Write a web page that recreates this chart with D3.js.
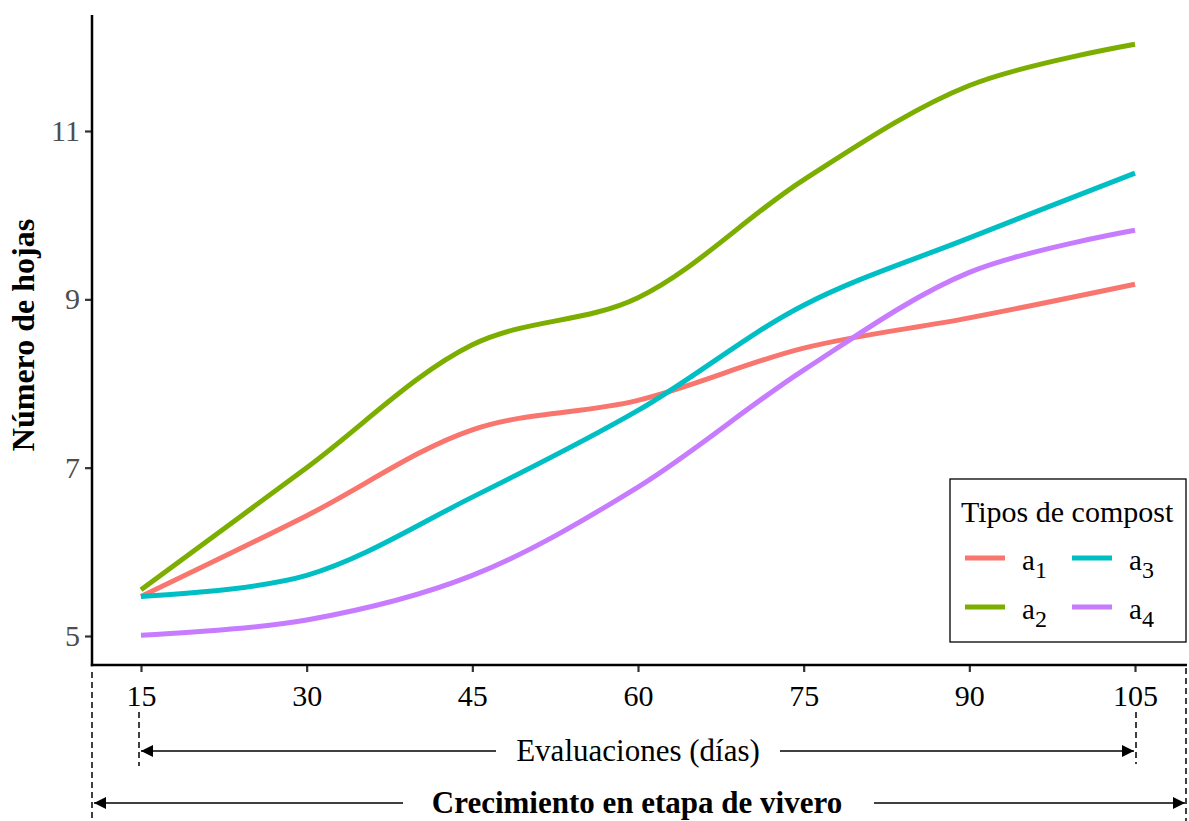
<!DOCTYPE html>
<html>
<head>
<meta charset="utf-8">
<script src="https://cdn.jsdelivr.net/npm/d3@7"></script>
<style>
  body { margin: 0; background: #fff; }
  svg { display: block; font-family: "Liberation Serif", "Times New Roman", serif; }
</style>
</head>
<body>
<script>
// evaluation days
const days = [15, 30, 45, 60, 75, 90, 105];
// series values (number of leaves)
const a1 = [5.47, 6.43, 7.45, 7.8, 8.42, 8.78, 9.18];
const a2 = [5.55, 7.0, 8.46, 9.02, 10.42, 11.54, 12.03];
const a3 = [5.47, 5.72, 6.65, 7.68, 8.93, 9.73, 10.5];
const a4 = [5.01, 5.19, 5.72, 6.77, 8.16, 9.32, 9.82];
const seriesNames = ["a1", "a2", "a3", "a4"];
const seriesColors = ["#F8766D", "#7CAE00", "#00BFC4", "#C77CFF"];
const yTicks = [5, 7, 9, 11];

const W = 1189, H = 821;
const svg = d3.select("body").append("svg").attr("width", W).attr("height", H);

const x = d3.scaleLinear().domain([15, 105]).range([141, 1135]);
const y = d3.scaleLinear().domain([5, 11]).range([636, 131]);
const axisLeft = 92, axisBottom = 665, axisTop = 15, axisRight = 1187;

// series lines
const line = d3.line()
  .x(d => x(d.x))
  .y(d => y(d.y))
  .curve(d3.curveCatmullRom.alpha(0.5));

const allSeries = [a1, a2, a3, a4].map((vals, i) => ({
  id: seriesNames[i],
  color: seriesColors[i],
  points: days.map((d, j) => ({x: d, y: vals[j]}))
}));

svg.append("g").selectAll("path").data(allSeries).enter()
  .append("path")
  .attr("d", d => line(d.points))
  .attr("fill", "none")
  .attr("stroke", d => d.color)
  .attr("stroke-width", 5);

// axes
const gy = svg.append("g").attr("transform", `translate(${axisLeft},0)`)
  .call(d3.axisLeft(y).tickValues(yTicks).tickSize(7).tickPadding(5).tickFormat(d3.format("d")));
gy.select(".domain").remove();
gy.selectAll("line").attr("stroke", "#333").attr("stroke-width", 2.2);
gy.selectAll("text").attr("font-size", 30).attr("fill", "#4D4D4D").attr("font-family", "Liberation Serif");

const gx = svg.append("g").attr("transform", `translate(0,${axisBottom})`)
  .call(d3.axisBottom(x).tickValues(days).tickSize(7).tickPadding(13).tickFormat(d3.format("d")));
gx.select(".domain").remove();
gx.selectAll("line").attr("stroke", "#333").attr("stroke-width", 2.2);
gx.selectAll("text").attr("font-size", 30).attr("fill", "#000").attr("font-family", "Liberation Serif");

svg.append("line").attr("x1", axisLeft).attr("x2", axisLeft).attr("y1", axisTop).attr("y2", axisBottom + 1.2)
  .attr("stroke", "#000").attr("stroke-width", 2.5);
svg.append("line").attr("x1", axisLeft - 1.2).attr("x2", axisRight).attr("y1", axisBottom).attr("y2", axisBottom)
  .attr("stroke", "#000").attr("stroke-width", 2.5);

// y axis title
svg.append("text")
  .attr("transform", `translate(34,335) rotate(-90)`)
  .attr("text-anchor", "middle")
  .attr("font-size", 32).attr("font-weight", "bold")
  .text("Número de hojas");

// legend
const lg = svg.append("g");
lg.append("rect").attr("x", 950).attr("y", 479).attr("width", 236).attr("height", 163)
  .attr("fill", "#fff").attr("stroke", "#000").attr("stroke-width", 1.3);
lg.append("text").attr("x", 961).attr("y", 522).attr("font-size", 30).text("Tipos de compost");
const legendPos = [[965, 558], [965, 607], [1072, 558], [1072, 607]];
allSeries.forEach((s, i) => {
  const [lx, ly] = legendPos[i];
  lg.append("line").attr("x1", lx).attr("x2", lx + 40).attr("y1", ly).attr("y2", ly)
    .attr("stroke", s.color).attr("stroke-width", 5);
  const t = lg.append("text").attr("x", lx + 57).attr("y", ly + 12).attr("font-size", 29);
  t.append("tspan").text("a");
  t.append("tspan").attr("dy", 8).attr("font-size", 24).text(s.id.slice(1));
});

// annotation arrows
const defs = svg.append("defs");
defs.append("marker").attr("id", "arr").attr("viewBox", "0 0 10 10")
  .attr("refX", 10).attr("refY", 5).attr("markerWidth", 16).attr("markerHeight", 12)
  .attr("markerUnits", "userSpaceOnUse").attr("orient", "auto")
  .append("path").attr("d", "M0,0L10,5L0,10Z").attr("fill", "#000");

function dashV(xp, y1, y2) {
  svg.append("line").attr("x1", xp).attr("x2", xp).attr("y1", y1).attr("y2", y2)
    .attr("stroke", "#000").attr("stroke-width", 1.5).attr("stroke-dasharray", "6,4");
}
dashV(axisLeft, 672, H);
dashV(1186, 668, H);
dashV(x(15) - 2, 712, 766);
dashV(x(105) + 1, 712, 764);

function arrowRow(x1, x2, yy, gapL, gapR) {
  svg.append("line").attr("x1", gapL).attr("x2", x1 + 1).attr("y1", yy).attr("y2", yy)
    .attr("stroke", "#000").attr("stroke-width", 1.5).attr("marker-end", "url(#arr)");
  svg.append("line").attr("x1", gapR).attr("x2", x2 - 1).attr("y1", yy).attr("y2", yy)
    .attr("stroke", "#000").attr("stroke-width", 1.5).attr("marker-end", "url(#arr)");
}
arrowRow(x(15) - 1, x(105), 751, 496, 780);
svg.append("text").attr("x", 638).attr("y", 761).attr("text-anchor", "middle")
  .attr("font-size", 31).text("Evaluaciones (días)");

arrowRow(axisLeft + 1, 1186, 803, 403, 874);
svg.append("text").attr("x", 637).attr("y", 813).attr("text-anchor", "middle")
  .attr("font-size", 31).attr("font-weight", "bold").text("Crecimiento en etapa de vivero");
</script>
</body>
</html>
